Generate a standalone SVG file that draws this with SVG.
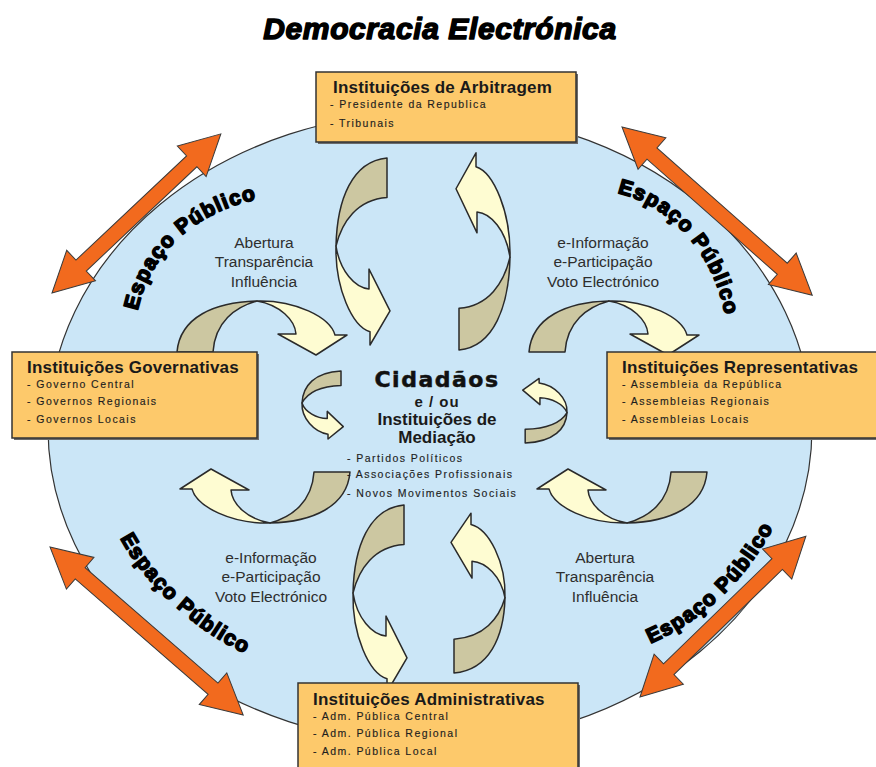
<svg xmlns="http://www.w3.org/2000/svg" xmlns:xlink="http://www.w3.org/1999/xlink" width="876" height="767" viewBox="0 0 876 767">
<style>
.box{fill:#fdc96b;stroke:#333;stroke-width:1.5}
.shadow{fill:#6b6b6b}
.bt{font-family:"Liberation Sans",Arial,sans-serif;font-weight:bold;font-size:17px;letter-spacing:0.2px;fill:#1a1a1a}
.bi{font-family:"Liberation Sans",Arial,sans-serif;font-size:10.5px;letter-spacing:1.45px;fill:#1e1e1e;stroke:#1e1e1e;stroke-width:0.15}
.lab{font-family:"Liberation Sans",Arial,sans-serif;font-size:15.5px;fill:#2e2e2e;text-anchor:middle}
.ep{font-family:"Liberation Sans",Arial,sans-serif;font-weight:bold;font-size:21px;letter-spacing:1.2px;fill:#000;stroke:#000;stroke-width:1.6;stroke-linejoin:round}
.orange{fill:#f26a1e;stroke:#3a3a3a;stroke-width:1}
.dk{fill:#ccc7a1;stroke:#2a2a2a;stroke-width:1.5;stroke-linejoin:round}
.lt{fill:#fefcd2;stroke:#2a2a2a;stroke-width:1.5;stroke-linejoin:round}
.ct{font-family:"Liberation Sans",Arial,sans-serif;font-weight:bold;fill:#1a1a1a;text-anchor:middle}
</style>
<defs>
<g id="carrow">
<path class="dk" vector-effect="non-scaling-stroke" d="M0,51 C3,16 38,1 80,0 C58,6 38,21 36,51 Z"/>
<path class="lt" vector-effect="non-scaling-stroke" d="M80,0 C118,-1 153,16 158,34 L170,34 L139,54 L101,33 L119,33 C118,19 103,4 80,0 Z"/>
</g>
<path id="ep1" d="M137,314 C147,258 192,212 259,199"/>
<path id="ep2" d="M612,192 C664,201 714,248 726,320"/>
<path id="ep3" d="M116,530 C138,577 193,632 253,657"/>
<path id="ep4" d="M640,648 C700,625 748,580 778,518"/>
</defs>

<rect width="876" height="767" fill="#ffffff"/>

<g id="title">
<text x="440" y="39" text-anchor="middle" font-family="Liberation Sans, Arial, sans-serif" font-weight="bold" font-style="italic" font-size="30" letter-spacing="0.6" fill="#000" stroke="#000" stroke-width="1.5" stroke-linejoin="round">Democracia Electrónica</text>
</g>

<g id="espaco-publico">
<ellipse cx="430" cy="428" rx="382" ry="316" fill="#cbe6f7" stroke="#333" stroke-width="1.2"/>
<text class="ep"><textPath href="#ep1" startOffset="50%" text-anchor="end"><tspan dx="-4">Espaço</tspan></textPath></text>
<text class="ep"><textPath href="#ep1" startOffset="50%" text-anchor="start"><tspan dx="3">Público</tspan></textPath></text>
<text class="ep"><textPath href="#ep2" startOffset="50%" text-anchor="end"><tspan dx="-4">Espaço</tspan></textPath></text>
<text class="ep"><textPath href="#ep2" startOffset="50%" text-anchor="start"><tspan dx="3">Público</tspan></textPath></text>
<text class="ep"><textPath href="#ep3" startOffset="50%" text-anchor="end"><tspan dx="-4">Espaço</tspan></textPath></text>
<text class="ep"><textPath href="#ep3" startOffset="50%" text-anchor="start"><tspan dx="3">Público</tspan></textPath></text>
<text class="ep"><textPath href="#ep4" startOffset="50%" text-anchor="end"><tspan dx="-4">Espaço</tspan></textPath></text>
<text class="ep"><textPath href="#ep4" startOffset="50%" text-anchor="start"><tspan dx="3">Público</tspan></textPath></text>
</g>

<g id="connectors">
<path class="orange" transform="translate(52,293) rotate(-43.3)" d="M0,0 L40,-21 L40,-7.5 L192,-7.5 L192,-21 L232,0 L192,21 L192,7.5 L40,7.5 L40,21 Z"/>
<path class="orange" transform="translate(622,127) rotate(41.5)" d="M0,0 L40,-21 L40,-7.5 L214,-7.5 L214,-21 L254,0 L214,21 L214,7.5 L40,7.5 L40,21 Z"/>
<path class="orange" transform="translate(50,547) rotate(41)" d="M0,0 L40,-21 L40,-7.5 L216,-7.5 L216,-21 L256,0 L216,21 L216,7.5 L40,7.5 L40,21 Z"/>
<path class="orange" transform="translate(640,697) rotate(-44.1)" d="M0,0 L40,-21 L40,-7.5 L191,-7.5 L191,-21 L231,0 L191,21 L191,7.5 L40,7.5 L40,21 Z"/>

<use href="#carrow" transform="matrix(0,1.1,1,0,336,158)"/>
<use href="#carrow" transform="translate(177,301)"/>
<use href="#carrow" transform="matrix(0,-1.16,-1,0,510,350)"/>
<use href="#carrow" transform="translate(529,301)"/>
<use href="#carrow" transform="matrix(-1,0,0,-1,350,523)"/>
<use href="#carrow" transform="matrix(0,1.1,1,0,353,505)"/>
<use href="#carrow" transform="matrix(0,-0.94,-1,0,505,673)"/>
<use href="#carrow" transform="matrix(-1,0,0,-1,707,523)"/>
<use href="#carrow" transform="matrix(0,0.4,0.765,0,302,371)"/>
<use href="#carrow" transform="matrix(0,-0.38,-0.82,0,567,443)"/>
</g>

<g id="labels">
<text class="lab" x="264" y="248">Abertura</text>
<text class="lab" x="264" y="267">Transparência</text>
<text class="lab" x="264" y="287">Influência</text>
<text class="lab" x="603" y="248">e-Informação</text>
<text class="lab" x="603" y="267">e-Participação</text>
<text class="lab" x="603" y="287">Voto Electrónico</text>
<text class="lab" x="271" y="563">e-Informação</text>
<text class="lab" x="271" y="582">e-Participação</text>
<text class="lab" x="271" y="602">Voto Electrónico</text>
<text class="lab" x="605" y="563">Abertura</text>
<text class="lab" x="605" y="582">Transparência</text>
<text class="lab" x="605" y="602">Influência</text>
</g>

<g id="cidadaos">
<text x="437" y="387" text-anchor="middle" font-family="DejaVu Sans, Verdana, sans-serif" font-weight="bold" font-size="22" letter-spacing="1.5" fill="#111" stroke="#111" stroke-width="0.5">Cidadãos</text>
<text class="ct" x="437" y="407" font-size="15" letter-spacing="1">e / ou</text>
<text class="ct" x="437" y="425" font-size="17">Instituições de</text>
<text class="ct" x="437" y="443" font-size="17">Mediação</text>
<text class="bi" x="347" y="462">- Partidos Políticos</text>
<text class="bi" x="347" y="478">- Associações Profissionais</text>
<text class="bi" x="347" y="497">- Novos Movimentos Sociais</text>
</g>

<g id="arbitragem">
<rect class="shadow" x="318" y="74" width="260" height="70"/>
<rect class="box" x="316" y="72" width="260" height="70"/>
<text class="bt" x="333" y="93">Instituições de Arbitragem</text>
<text class="bi" x="330" y="108">- Presidente da Republica</text>
<text class="bi" x="330" y="127">- Tribunais</text>
</g>

<g id="governativas">
<rect class="shadow" x="14" y="354" width="245" height="86"/>
<rect class="box" x="12" y="352" width="245" height="86"/>
<text class="bt" x="27" y="373">Instituições Governativas</text>
<text class="bi" x="27" y="388">- Governo Central</text>
<text class="bi" x="27" y="405">- Governos Regionais</text>
<text class="bi" x="27" y="423">- Governos Locais</text>
</g>

<g id="representativas">
<rect class="shadow" x="609" y="354" width="280" height="86"/>
<rect class="box" x="607" y="352" width="280" height="86"/>
<text class="bt" x="622" y="373">Instituições Representativas</text>
<text class="bi" x="622" y="388">- Assembleia da República</text>
<text class="bi" x="622" y="405">- Assembleias Regionais</text>
<text class="bi" x="622" y="423">- Assembleias Locais</text>
</g>

<g id="administrativas">
<rect class="shadow" x="300" y="685" width="280" height="95"/>
<rect class="box" x="298" y="683" width="280" height="95"/>
<text class="bt" x="313" y="705">Instituições Administrativas</text>
<text class="bi" x="313" y="720">- Adm. Pública Central</text>
<text class="bi" x="313" y="737">- Adm. Pública Regional</text>
<text class="bi" x="313" y="755">- Adm. Pública Local</text>
</g>
</svg>
